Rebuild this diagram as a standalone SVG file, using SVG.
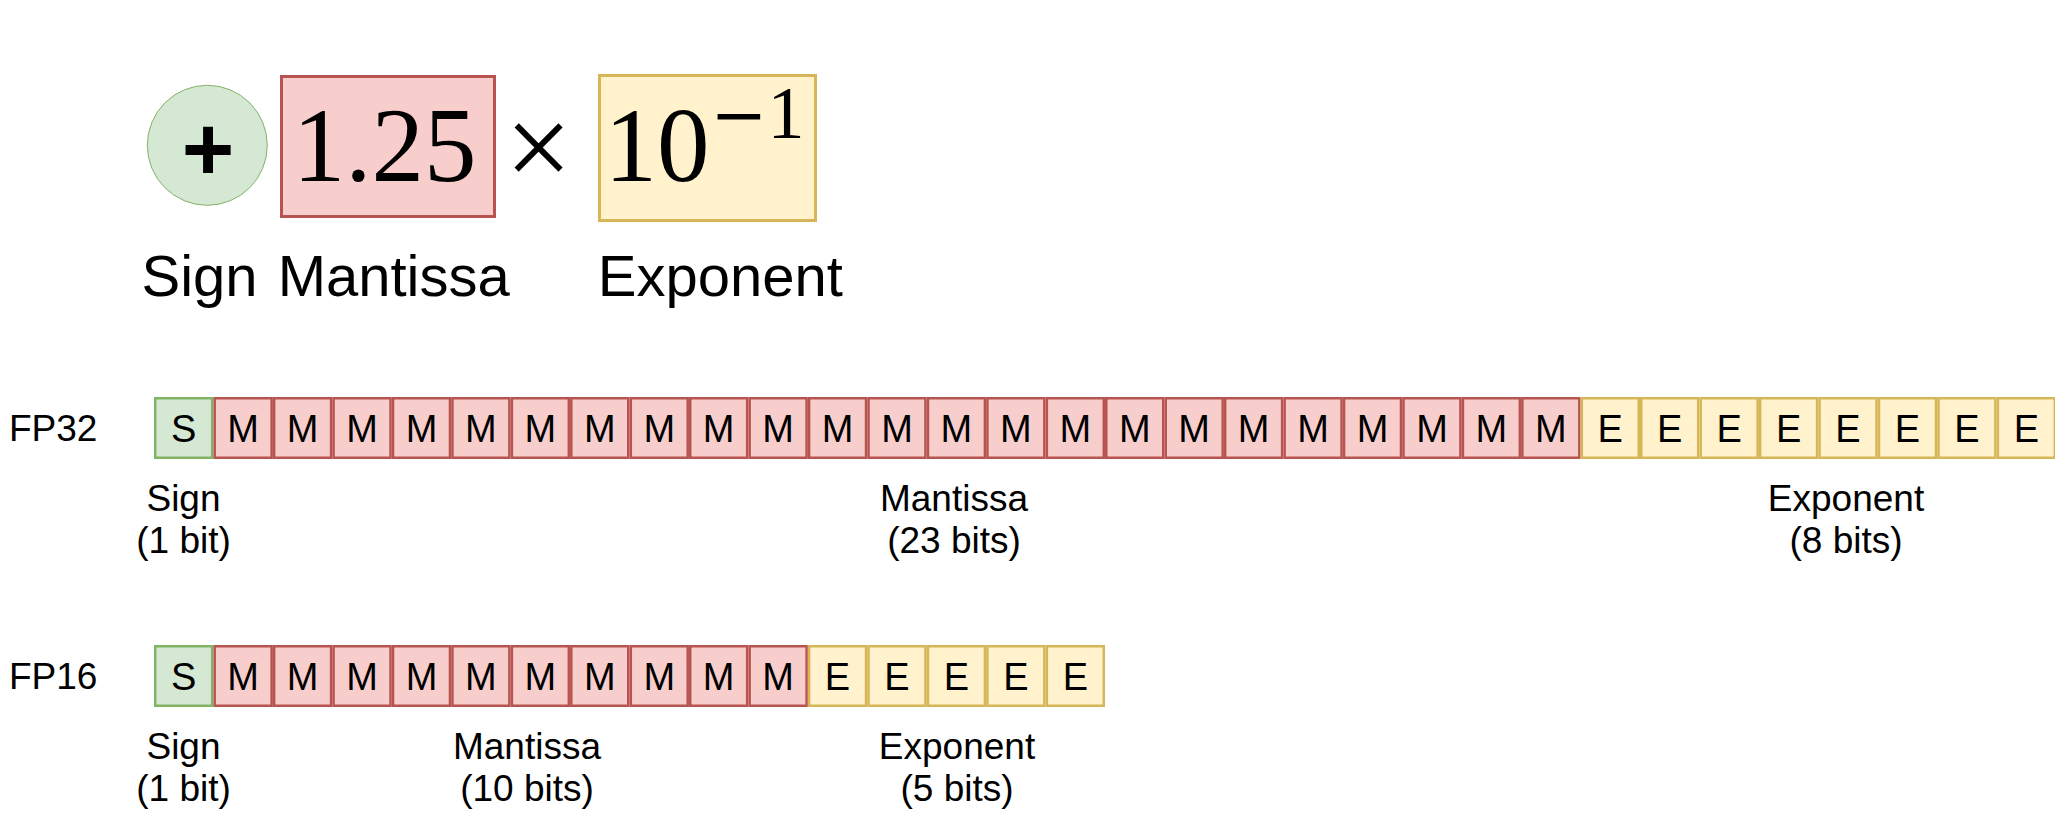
<svg xmlns="http://www.w3.org/2000/svg" width="2055" height="814" viewBox="0 0 2055 814">
<style>
text{font-family:"Liberation Sans",Arial,sans-serif;fill:#000}
.cell rect{stroke-width:2.5}
.cell text{font-size:38px;text-anchor:middle}
.s rect{fill:#d5e8d4;stroke:#82b366}
.m rect{fill:#f8cecc;stroke:#b85450}
.e rect{fill:#fff2cc;stroke:#d6b656}
.lbl{font-size:37px;text-anchor:middle}
.big{font-size:58px;text-anchor:middle}
.math{font-family:"Liberation Serif","Times New Roman",serif}
</style>
<rect width="2055" height="814" fill="#fff"/>
<g id="connectors"/>
<g id="sign-circle">
<circle cx="207.3" cy="145.3" r="60" fill="#d5e8d4" stroke="#82b366" stroke-width="1"/>
<text x="208" y="180" style="font-size:90px;font-weight:bold;text-anchor:middle">+</text>
</g>
<g id="mantissa-box">
<rect x="281.5" y="76.5" width="213" height="140" fill="#f8cecc" stroke="#b85450" stroke-width="3"/>
<text class="math" x="384.5" y="181" style="font-size:105px;text-anchor:middle">1.25</text>
</g>
<g id="times">
<text class="math" x="538.5" y="187" style="font-size:118px;text-anchor:middle">×</text>
</g>
<g id="exponent-box">
<rect x="599.5" y="75.5" width="216" height="145" fill="#fff2cc" stroke="#d6b656" stroke-width="3"/>
<text class="math" x="657" y="181" style="font-size:105px;text-anchor:middle">10</text>
<text x="739" y="138" style="font-family:'DejaVu Serif',serif;font-size:68px;text-anchor:middle">−</text>
<text class="math" x="786" y="138" style="font-size:74px;text-anchor:middle">1</text>
</g>
<g id="top-labels">
<text class="big" x="199.5" y="296">Sign</text>
<text class="big" x="393.7" y="296">Mantissa</text>
<text class="big" x="720.4" y="296">Exponent</text>
</g>
<g id="fp32-label"><text x="9" y="441" style="font-size:37px">FP32</text></g>
<g id="fp32">
<g id="fp32-b0" class="cell s" transform="translate(154,397)"><rect x="1.25" y="1.25" width="56.94" height="59.5"/><text x="29.72" y="44.6">S</text></g>
<g id="fp32-b1" class="cell m" transform="translate(213.44,397)"><rect x="1.25" y="1.25" width="56.94" height="59.5"/><text x="29.72" y="44.6">M</text></g>
<g id="fp32-b2" class="cell m" transform="translate(272.88,397)"><rect x="1.25" y="1.25" width="56.94" height="59.5"/><text x="29.72" y="44.6">M</text></g>
<g id="fp32-b3" class="cell m" transform="translate(332.32,397)"><rect x="1.25" y="1.25" width="56.94" height="59.5"/><text x="29.72" y="44.6">M</text></g>
<g id="fp32-b4" class="cell m" transform="translate(391.76,397)"><rect x="1.25" y="1.25" width="56.94" height="59.5"/><text x="29.72" y="44.6">M</text></g>
<g id="fp32-b5" class="cell m" transform="translate(451.2,397)"><rect x="1.25" y="1.25" width="56.94" height="59.5"/><text x="29.72" y="44.6">M</text></g>
<g id="fp32-b6" class="cell m" transform="translate(510.64,397)"><rect x="1.25" y="1.25" width="56.94" height="59.5"/><text x="29.72" y="44.6">M</text></g>
<g id="fp32-b7" class="cell m" transform="translate(570.08,397)"><rect x="1.25" y="1.25" width="56.94" height="59.5"/><text x="29.72" y="44.6">M</text></g>
<g id="fp32-b8" class="cell m" transform="translate(629.52,397)"><rect x="1.25" y="1.25" width="56.94" height="59.5"/><text x="29.72" y="44.6">M</text></g>
<g id="fp32-b9" class="cell m" transform="translate(688.96,397)"><rect x="1.25" y="1.25" width="56.94" height="59.5"/><text x="29.72" y="44.6">M</text></g>
<g id="fp32-b10" class="cell m" transform="translate(748.4,397)"><rect x="1.25" y="1.25" width="56.94" height="59.5"/><text x="29.72" y="44.6">M</text></g>
<g id="fp32-b11" class="cell m" transform="translate(807.84,397)"><rect x="1.25" y="1.25" width="56.94" height="59.5"/><text x="29.72" y="44.6">M</text></g>
<g id="fp32-b12" class="cell m" transform="translate(867.28,397)"><rect x="1.25" y="1.25" width="56.94" height="59.5"/><text x="29.72" y="44.6">M</text></g>
<g id="fp32-b13" class="cell m" transform="translate(926.72,397)"><rect x="1.25" y="1.25" width="56.94" height="59.5"/><text x="29.72" y="44.6">M</text></g>
<g id="fp32-b14" class="cell m" transform="translate(986.16,397)"><rect x="1.25" y="1.25" width="56.94" height="59.5"/><text x="29.72" y="44.6">M</text></g>
<g id="fp32-b15" class="cell m" transform="translate(1045.6,397)"><rect x="1.25" y="1.25" width="56.94" height="59.5"/><text x="29.72" y="44.6">M</text></g>
<g id="fp32-b16" class="cell m" transform="translate(1105.04,397)"><rect x="1.25" y="1.25" width="56.94" height="59.5"/><text x="29.72" y="44.6">M</text></g>
<g id="fp32-b17" class="cell m" transform="translate(1164.48,397)"><rect x="1.25" y="1.25" width="56.94" height="59.5"/><text x="29.72" y="44.6">M</text></g>
<g id="fp32-b18" class="cell m" transform="translate(1223.92,397)"><rect x="1.25" y="1.25" width="56.94" height="59.5"/><text x="29.72" y="44.6">M</text></g>
<g id="fp32-b19" class="cell m" transform="translate(1283.36,397)"><rect x="1.25" y="1.25" width="56.94" height="59.5"/><text x="29.72" y="44.6">M</text></g>
<g id="fp32-b20" class="cell m" transform="translate(1342.8,397)"><rect x="1.25" y="1.25" width="56.94" height="59.5"/><text x="29.72" y="44.6">M</text></g>
<g id="fp32-b21" class="cell m" transform="translate(1402.24,397)"><rect x="1.25" y="1.25" width="56.94" height="59.5"/><text x="29.72" y="44.6">M</text></g>
<g id="fp32-b22" class="cell m" transform="translate(1461.68,397)"><rect x="1.25" y="1.25" width="56.94" height="59.5"/><text x="29.72" y="44.6">M</text></g>
<g id="fp32-b23" class="cell m" transform="translate(1521.12,397)"><rect x="1.25" y="1.25" width="56.94" height="59.5"/><text x="29.72" y="44.6">M</text></g>
<g id="fp32-b24" class="cell e" transform="translate(1580.56,397)"><rect x="1.25" y="1.25" width="56.94" height="59.5"/><text x="29.72" y="44.6">E</text></g>
<g id="fp32-b25" class="cell e" transform="translate(1640,397)"><rect x="1.25" y="1.25" width="56.94" height="59.5"/><text x="29.72" y="44.6">E</text></g>
<g id="fp32-b26" class="cell e" transform="translate(1699.44,397)"><rect x="1.25" y="1.25" width="56.94" height="59.5"/><text x="29.72" y="44.6">E</text></g>
<g id="fp32-b27" class="cell e" transform="translate(1758.88,397)"><rect x="1.25" y="1.25" width="56.94" height="59.5"/><text x="29.72" y="44.6">E</text></g>
<g id="fp32-b28" class="cell e" transform="translate(1818.32,397)"><rect x="1.25" y="1.25" width="56.94" height="59.5"/><text x="29.72" y="44.6">E</text></g>
<g id="fp32-b29" class="cell e" transform="translate(1877.76,397)"><rect x="1.25" y="1.25" width="56.94" height="59.5"/><text x="29.72" y="44.6">E</text></g>
<g id="fp32-b30" class="cell e" transform="translate(1937.2,397)"><rect x="1.25" y="1.25" width="56.94" height="59.5"/><text x="29.72" y="44.6">E</text></g>
<g id="fp32-b31" class="cell e" transform="translate(1996.64,397)"><rect x="1.25" y="1.25" width="56.94" height="59.5"/><text x="29.72" y="44.6">E</text></g>
</g>
<g id="fp32-labels">
<text class="lbl" x="183.5" y="511">Sign</text><text class="lbl" x="183.5" y="553">(1 bit)</text>
<text class="lbl" x="954" y="511">Mantissa</text><text class="lbl" x="954" y="553">(23 bits)</text>
<text class="lbl" x="1846" y="511">Exponent</text><text class="lbl" x="1846" y="553">(8 bits)</text>
</g>
<g id="fp16-label"><text x="9" y="689" style="font-size:37px">FP16</text></g>
<g id="fp16">
<g id="fp16-b0" class="cell s" transform="translate(154,645)"><rect x="1.25" y="1.25" width="56.94" height="59.5"/><text x="29.72" y="44.6">S</text></g>
<g id="fp16-b1" class="cell m" transform="translate(213.44,645)"><rect x="1.25" y="1.25" width="56.94" height="59.5"/><text x="29.72" y="44.6">M</text></g>
<g id="fp16-b2" class="cell m" transform="translate(272.88,645)"><rect x="1.25" y="1.25" width="56.94" height="59.5"/><text x="29.72" y="44.6">M</text></g>
<g id="fp16-b3" class="cell m" transform="translate(332.32,645)"><rect x="1.25" y="1.25" width="56.94" height="59.5"/><text x="29.72" y="44.6">M</text></g>
<g id="fp16-b4" class="cell m" transform="translate(391.76,645)"><rect x="1.25" y="1.25" width="56.94" height="59.5"/><text x="29.72" y="44.6">M</text></g>
<g id="fp16-b5" class="cell m" transform="translate(451.2,645)"><rect x="1.25" y="1.25" width="56.94" height="59.5"/><text x="29.72" y="44.6">M</text></g>
<g id="fp16-b6" class="cell m" transform="translate(510.64,645)"><rect x="1.25" y="1.25" width="56.94" height="59.5"/><text x="29.72" y="44.6">M</text></g>
<g id="fp16-b7" class="cell m" transform="translate(570.08,645)"><rect x="1.25" y="1.25" width="56.94" height="59.5"/><text x="29.72" y="44.6">M</text></g>
<g id="fp16-b8" class="cell m" transform="translate(629.52,645)"><rect x="1.25" y="1.25" width="56.94" height="59.5"/><text x="29.72" y="44.6">M</text></g>
<g id="fp16-b9" class="cell m" transform="translate(688.96,645)"><rect x="1.25" y="1.25" width="56.94" height="59.5"/><text x="29.72" y="44.6">M</text></g>
<g id="fp16-b10" class="cell m" transform="translate(748.4,645)"><rect x="1.25" y="1.25" width="56.94" height="59.5"/><text x="29.72" y="44.6">M</text></g>
<g id="fp16-b11" class="cell e" transform="translate(807.84,645)"><rect x="1.25" y="1.25" width="56.94" height="59.5"/><text x="29.72" y="44.6">E</text></g>
<g id="fp16-b12" class="cell e" transform="translate(867.28,645)"><rect x="1.25" y="1.25" width="56.94" height="59.5"/><text x="29.72" y="44.6">E</text></g>
<g id="fp16-b13" class="cell e" transform="translate(926.72,645)"><rect x="1.25" y="1.25" width="56.94" height="59.5"/><text x="29.72" y="44.6">E</text></g>
<g id="fp16-b14" class="cell e" transform="translate(986.16,645)"><rect x="1.25" y="1.25" width="56.94" height="59.5"/><text x="29.72" y="44.6">E</text></g>
<g id="fp16-b15" class="cell e" transform="translate(1045.6,645)"><rect x="1.25" y="1.25" width="56.94" height="59.5"/><text x="29.72" y="44.6">E</text></g>
</g>
<g id="fp16-labels">
<text class="lbl" x="183.5" y="759">Sign</text><text class="lbl" x="183.5" y="801">(1 bit)</text>
<text class="lbl" x="527" y="759">Mantissa</text><text class="lbl" x="527" y="801">(10 bits)</text>
<text class="lbl" x="957" y="759">Exponent</text><text class="lbl" x="957" y="801">(5 bits)</text>
</g>
</svg>
